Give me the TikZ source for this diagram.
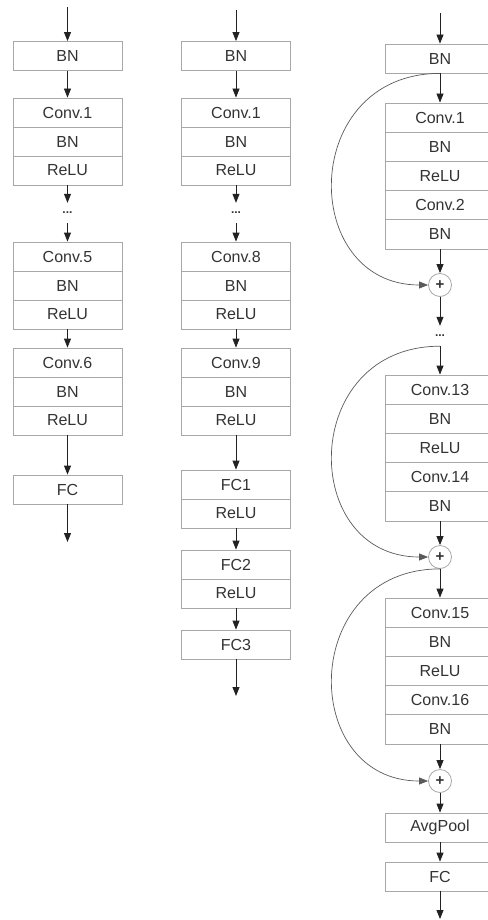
\documentclass[tikz,border=0pt]{standalone}
\usepackage{fontspec}
\setmainfont{Liberation Sans}
\usetikzlibrary{arrows.meta}
\definecolor{boxgray}{HTML}{A8A8A8}
\definecolor{textgray}{HTML}{333333}
\definecolor{linegray}{HTML}{222222}
\definecolor{curvegray}{HTML}{5A5A5A}
\begin{document}
\begin{tikzpicture}[x=1pt,y=-1pt,
  layer/.style={draw=boxgray, line width=0.8pt, minimum width=109pt,
    minimum height=29pt, inner sep=0pt, text=textgray,
    font=\fontsize{16}{17}\selectfont},
  rlayer/.style={layer, minimum height=29.2pt},
  sumnode/.style={circle, draw=boxgray, line width=0.8pt, minimum size=23pt,
    inner sep=0pt, text=textgray, font=\bfseries\fontsize{15}{15}\selectfont},
  ellipsis/.style={inner sep=0pt, minimum height=20pt, text height=1.5pt,
    text depth=0pt, text=textgray, font=\bfseries\fontsize{12}{12}\selectfont},
  flow/.style={draw=linegray, line width=0.8pt,
    -{Triangle[length=9pt,width=7pt]}},
  skip/.style={draw=curvegray, line width=0.7pt,
    -{Triangle[length=9pt,width=7pt]}}]
\useasboundingbox (0,0) rectangle (487,920);

% ---- first network: plain convolution stack ----
\coordinate (a0) at (67.5,7);
\node[layer] (a1) at (67.5,56) {BN};
\node[layer] (a2) at (67.5,112.5) {Conv.1};
\node[layer] (a3) at (67.5,141.5) {BN};
\node[layer] (a4) at (67.5,170.5) {ReLU};
\node[ellipsis] (ad) at (67.5,213) {...};
\node[layer] (a5) at (67.5,256.5) {Conv.5};
\node[layer] (a6) at (67.5,285.5) {BN};
\node[layer] (a7) at (67.5,314.5) {ReLU};
\node[layer] (a8) at (67.5,362.5) {Conv.6};
\node[layer] (a9) at (67.5,391.5) {BN};
\node[layer] (a10) at (67.5,420.5) {ReLU};
\node[layer] (a11) at (67.5,489.5) {FC};
\coordinate (ae) at (67.5,542);
\draw[flow] (a0) -- (a1);
\draw[flow] (a1) -- (a2);
\draw[flow] (a4) -- (ad);
\draw[flow] (ad) -- (a5);
\draw[flow] (a7) -- (a8);
\draw[flow] (a10) -- (a11);
\draw[flow] (a11) -- (ae);

% ---- second network: convolutions followed by three FC layers ----
\coordinate (b0) at (236,10);
\node[layer] (b1) at (236,56) {BN};
\node[layer] (b2) at (236,112.5) {Conv.1};
\node[layer] (b3) at (236,141.5) {BN};
\node[layer] (b4) at (236,170.5) {ReLU};
\node[ellipsis] (bd) at (236,213) {...};
\node[layer] (b5) at (236,256.5) {Conv.8};
\node[layer] (b6) at (236,285.5) {BN};
\node[layer] (b7) at (236,314.5) {ReLU};
\node[layer] (b8) at (236,362.5) {Conv.9};
\node[layer] (b9) at (236,391.5) {BN};
\node[layer] (b10) at (236,420.5) {ReLU};
\node[layer] (b11) at (236,484.5) {FC1};
\node[layer] (b12) at (236,513.5) {ReLU};
\node[layer] (b13) at (236,564.5) {FC2};
\node[layer] (b14) at (236,593.5) {ReLU};
\node[layer] (b15) at (236,644.5) {FC3};
\coordinate (be) at (236,696);
\draw[flow] (b0) -- (b1);
\draw[flow] (b1) -- (b2);
\draw[flow] (b4) -- (bd);
\draw[flow] (bd) -- (b5);
\draw[flow] (b7) -- (b8);
\draw[flow] (b10) -- (b11);
\draw[flow] (b12) -- (b13);
\draw[flow] (b14) -- (b15);
\draw[flow] (b15) -- (be);

% ---- third network: residual blocks ----
\coordinate (c0) at (440,13);
\node[layer] (c1) at (440,58.5) {BN};
\node[rlayer] (c2) at (440,117.6) {Conv.1};
\node[rlayer] (c3) at (440,146.8) {BN};
\node[rlayer] (c4) at (440,176.0) {ReLU};
\node[rlayer] (c5) at (440,205.2) {Conv.2};
\node[rlayer] (c6) at (440,234.4) {BN};
\node[sumnode] (p1) at (440,285) {+};
\node[ellipsis] (cd) at (440,336) {...};
\node[rlayer] (c7) at (440,389.6) {Conv.13};
\node[rlayer] (c8) at (440,418.8) {BN};
\node[rlayer] (c9) at (440,448.0) {ReLU};
\node[rlayer] (c10) at (440,477.2) {Conv.14};
\node[rlayer] (c11) at (440,506.4) {BN};
\node[sumnode] (p2) at (440,557) {+};
\node[rlayer] (c12) at (440,612.6) {Conv.15};
\node[rlayer] (c13) at (440,641.8) {BN};
\node[rlayer] (c14) at (440,671.0) {ReLU};
\node[rlayer] (c15) at (440,700.2) {Conv.16};
\node[rlayer] (c16) at (440,729.4) {BN};
\node[sumnode] (p3) at (440,781) {+};
\node[layer] (c17) at (440,827.5) {AvgPool};
\node[layer] (c18) at (440,876.5) {FC};
\coordinate (ce) at (440,919);
\draw[flow] (c0) -- (c1);
\draw[flow] (c1) -- (c2);
\draw[flow] (c6) -- (p1);
\draw[flow] (p1) -- (cd);
\draw[flow] (cd) -- (c7);
\draw[flow] (c11) -- (p2);
\draw[flow] (p2) -- (c12);
\draw[flow] (c16) -- (p3);
\draw[flow] (p3) -- (c17);
\draw[flow] (c17) -- (c18);
\draw[flow] (c18) -- (ce);

% identity shortcuts
\draw[skip] (c1.south) .. controls +(-141,0) and +(-129.5,0) .. (p1.west);
\draw[skip] (cd.south) .. controls +(-141,0) and +(-129.5,0) .. (p2.west);
\draw[skip] (p2.south) .. controls +(-141,0) and +(-129.5,0) .. (p3.west);
\end{tikzpicture}
\end{document}
